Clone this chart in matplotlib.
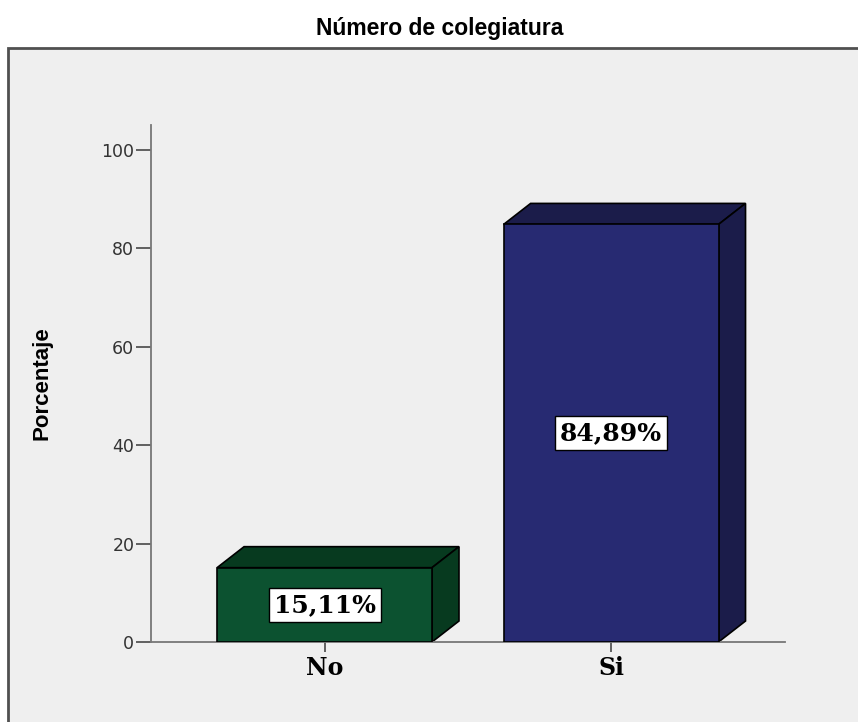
import matplotlib
matplotlib.use("Agg")
import matplotlib.pyplot as plt
from matplotlib.patches import Rectangle, Polygon

categories = ["No", "Si"]
values = [15.11, 84.89]
labels = ["15,11%", "84,89%"]
yticks = [0, 20, 40, 60, 80, 100]
front_colors = ["#0c5230", "#272a72"]
dark_colors = ["#073a1f", "#1b1c4a"]

W, H = 858, 722
fig = plt.figure(figsize=(W / 100, H / 100), dpi=100)
fig.patch.set_facecolor("white")

# outer frame (panel)
frame = Rectangle((8 / W, -0.05), 1.0, (H - 48) / H + 0.05, transform=fig.transFigure,
                  facecolor="#efefef", edgecolor="#505050", lw=2.0, zorder=-10)
fig.patches.append(frame)

fig.text(440 / W, 1 - 28 / H, "Número de colegiatura", ha="center", va="center",
         fontsize=16.5, fontweight="bold", family="Liberation Sans")

ax = fig.add_axes([151 / W, (H - 642) / H, 634 / W, 517 / H])
ax.set_facecolor("none")
x0lim, x1lim = -0.6056, 1.607
ylim_top = 105.1
ax.set_xlim(x0lim, x1lim)
ax.set_ylim(0, ylim_top)

bw = 0.75
# depth offsets in data units (27 px right, 21 px up)
dx = 27 / 634 * (x1lim - x0lim)
dy = 21 / 517 * ylim_top

for i, (v, lab) in enumerate(zip(values, labels)):
    xl = i - bw / 2
    xr = i + bw / 2
    front = Rectangle((xl, 0), bw, v, facecolor=front_colors[i], edgecolor="black", lw=1.2, zorder=3)
    ax.add_patch(front)
    top = Polygon([(xl, v), (xr, v), (xr + dx, v + dy), (xl + dx, v + dy)], closed=True,
                  facecolor=dark_colors[i], edgecolor="black", lw=1.2, zorder=2)
    side = Polygon([(xr, 0), (xr + dx, dy), (xr + dx, v + dy), (xr, v)], closed=True,
                   facecolor=dark_colors[i], edgecolor="black", lw=1.2, zorder=2)
    ax.add_patch(top)
    ax.add_patch(side)
    ax.text(i, v / 2, lab, ha="center", va="center", fontsize=18, fontweight="bold",
            family="DejaVu Serif", zorder=5,
            bbox=dict(boxstyle="square,pad=0.2", facecolor="white", edgecolor="black", lw=1.0))

for s in ["top", "right"]:
    ax.spines[s].set_visible(False)
for s in ["left", "bottom"]:
    ax.spines[s].set_color("#777777")
    ax.spines[s].set_linewidth(1.3)

ax.set_yticks(yticks)
ax.set_yticklabels([str(t) for t in yticks], family="DejaVu Sans", fontsize=12.5, color="#333333")
ax.tick_params(axis="y", length=11, width=1.3, color="#555555", pad=1)
ax.set_xticks(range(len(categories)))
ax.set_xticklabels(categories, family="DejaVu Serif", fontsize=17, fontweight="bold")
ax.tick_params(axis="x", length=7, width=1.3, color="#555555", pad=3)

ax.set_ylabel("Porcentaje", family="Liberation Sans", fontweight="bold", fontsize=16)
ax.yaxis.set_label_coords((52 - 151) / 634, (642 - 383) / 517)

fig.savefig("out.png", dpi=100)
